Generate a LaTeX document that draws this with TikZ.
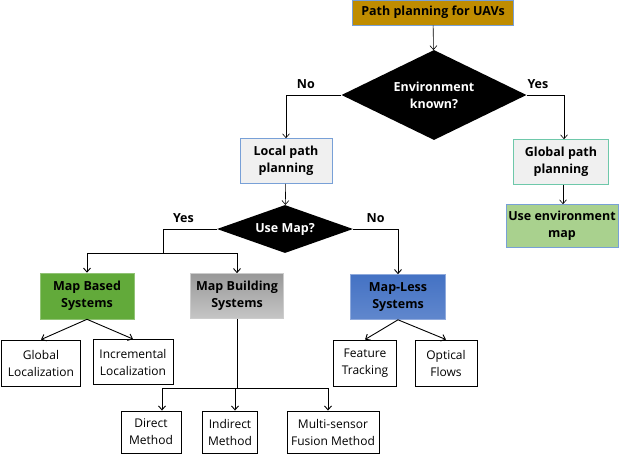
\documentclass[tikz,border=0pt]{standalone}
\usepackage{fontspec}
\setmainfont{Open Sans}
\usetikzlibrary{shapes.geometric,arrows.meta}

\definecolor{uavgold}{RGB}{191,140,0}
\definecolor{edgeblue}{RGB}{120,160,215}
\definecolor{paper}{RGB}{240,240,240}
\definecolor{edgeteal}{RGB}{110,200,170}
\definecolor{lightgreen}{RGB}{169,209,142}
\definecolor{mapgreen}{RGB}{98,170,58}
\definecolor{mapblue}{RGB}{68,114,196}

\begin{document}
\begin{tikzpicture}[x=1pt,y=-1pt,
    >={Straight Barb[length=4pt,width=7pt]},
    box/.style={draw, line width=0.9pt, align=center, inner sep=1pt,
      font=\fontsize{12}{17}\selectfont},
    head/.style={draw, line width=0.6pt, align=center, inner sep=1pt,
      font=\bfseries\fontsize{12.5}{17}\selectfont},
    decision/.style={diamond, fill=black, text=white, aspect=2, inner sep=0pt,
      align=center, font=\bfseries\fontsize{12.5}{17}\selectfont},
    lab/.style={font=\bfseries\fontsize{12.5}{15}\selectfont}]
  \useasboundingbox (0,0) rectangle (620,455);

  \node[head, fill=uavgold, draw=edgeblue, minimum width=161pt, minimum height=25pt] (uav) at (433,12.5) {Path planning for UAVs};
  \node[decision, minimum width=185pt, minimum height=90pt] (env) at (434,95) {Environment\\known?};

  \node[head, fill=paper, draw=edgeblue, minimum width=92pt, minimum height=45pt] (local) at (286,161) {Local path\\planning};
  \node[head, fill=paper, draw=edgeteal, minimum width=95pt, minimum height=45pt] (global) at (561,162) {Global path\\planning};
  \node[head, fill=lightgreen, draw=edgeblue, minimum width=112pt, minimum height=43pt] (envmap) at (562,226) {Use environment\\map};

  \node[decision, minimum width=136pt, minimum height=48pt] (usemap) at (285,229) {Use Map?};

  \node[head, fill=mapgreen, draw=mapgreen!70, minimum width=94pt, minimum height=46pt] (mapbased) at (87,296) {Map Based\\Systems};
  \node[head, top color=gray!80, bottom color=gray!45, draw=gray!40, minimum width=93pt, minimum height=45pt] (mapbuild) at (237,296) {Map Building\\Systems};
  \node[head, top color=mapblue, bottom color=mapblue!85, draw=mapblue!60, minimum width=95pt, minimum height=45pt] (mapless) at (398,297) {Map-Less\\Systems};

  \node[box, minimum width=79pt, minimum height=46pt] (globloc) at (41,363) {Global\\Localization};
  \node[box, minimum width=80pt, minimum height=45pt] (incloc) at (133,362) {Incremental\\Localization};
  \node[box, minimum width=63pt, minimum height=46pt] (feature) at (365,363) {Feature\\Tracking};
  \node[box, minimum width=62pt, minimum height=46pt] (optical) at (446,363) {Optical\\Flows};

  \node[box, minimum width=60pt, minimum height=42pt] (direct) at (151,432) {Direct\\Method};
  \node[box, minimum width=55pt, minimum height=42pt] (indirect) at (230,432) {Indirect\\Method};
  \node[box, minimum width=92pt, minimum height=42pt] (fusion) at (333,432) {Multi-sensor\\Fusion Method};

  \coordinate (yesjoin) at (163,253);
  \coordinate (buildjoin) at (237,388);

  \draw[->, line width=0.6pt] (uav) -- (env);
  \draw[->, line width=0.6pt] (env.west) -| node[lab, pos=0.32, above=3pt] {No} (local.north);
  \draw[->, line width=0.6pt] (env.east) -| node[lab, pos=0.15, above=3pt] {Yes} ([xshift=3pt]global.north);
  \draw[->, line width=0.6pt] ([xshift=2pt]global.south) -- ([xshift=1pt]envmap.north);
  \draw[->, line width=0.6pt] (local) -- (usemap);

  \draw[line width=0.9pt] (usemap.west) -| node[lab, pos=0.31, above=3pt] {Yes} (yesjoin);
  \draw[->, line width=0.9pt] (yesjoin) -| (mapbased.north);
  \draw[->, line width=0.9pt] (yesjoin) -| (mapbuild.north);
  \draw[->, line width=0.9pt] (usemap.east) -| node[lab, pos=0.25, above=3pt] {No} (mapless.north);

  \draw[->, line width=0.9pt] (mapbased.south) -- (globloc.north);
  \draw[->, line width=0.9pt] (mapbased.south) -- (incloc.north);
  \draw[->, line width=0.9pt] (mapless.south) -- (feature.north);
  \draw[->, line width=0.9pt] (mapless.south) -- (optical.north);

  \draw[line width=0.9pt] (mapbuild.south) -- (buildjoin);
  \draw[->, line width=0.9pt] (buildjoin) -| ([xshift=11pt]direct.north);
  \draw[->, line width=0.9pt] (buildjoin) -| ([xshift=5pt]indirect.north);
  \draw[->, line width=0.9pt] (buildjoin) -| ([xshift=-5pt]fusion.north);
\end{tikzpicture}
\end{document}
